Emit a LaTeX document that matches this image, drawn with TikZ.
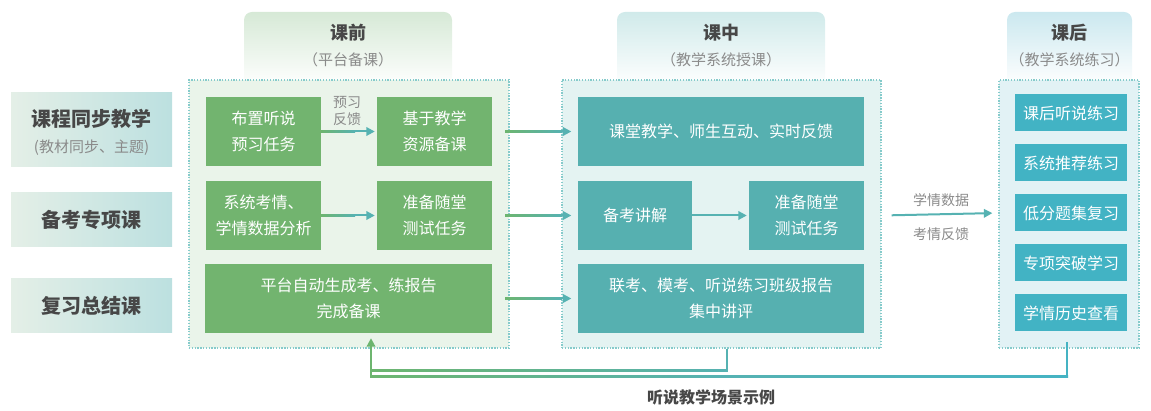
\documentclass[tikz,border=0pt]{standalone}
\usepackage{fontspec}
\setmainfont{Noto Sans CJK SC}
\usetikzlibrary{arrows.meta,calc}
\definecolor{gboxc}{HTML}{72B46F}
\definecolor{tboxc}{HTML}{56B0B0}
\definecolor{cboxc}{HTML}{42B3C4}
\definecolor{fAc}{HTML}{EAF4EA}
\definecolor{fBc}{HTML}{E4F3F2}
\definecolor{fCc}{HTML}{E2F2F5}
\definecolor{dotc}{HTML}{86CBCB}
\definecolor{hAc}{HTML}{D6E9D6}
\definecolor{hBc}{HTML}{D0EAEA}
\definecolor{hCc}{HTML}{CBE8EF}
\definecolor{lLc}{HTML}{E4EFE7}
\definecolor{lRc}{HTML}{BCE0E0}
\definecolor{arrGc}{HTML}{6DB56F}
\definecolor{arrTc}{HTML}{56B2B2}
\definecolor{arrCc}{HTML}{45B3C3}
\definecolor{darkc}{HTML}{474747}
\definecolor{grayc}{HTML}{8A8A8A}
\tikzset{
  box/.style={inner sep=0pt, align=center, text=white, font=\fontsize{16}{26}\selectfont},
  greenbox/.style={box, fill=gboxc},
  tealbox/.style={box, fill=tboxc},
  cyanbox/.style={box, fill=cboxc, minimum width=112pt, minimum height=37pt},
  frame/.style={draw=dotc, line width=1.3pt, dash pattern=on 1.3pt off 1.5pt, inner sep=0pt, minimum height=268pt},
  lbl/.style={inner sep=0pt, left color=lLc, right color=lRc, minimum width=161pt},
  ltitle/.style={inner sep=0pt, text=darkc, font=\fontsize{20}{24}\selectfont\bfseries},
  lsub/.style={inner sep=0pt, text=grayc, font=\fontsize{15}{18}\selectfont},
  htitle/.style={inner sep=0pt, text=darkc, font=\fontsize{18}{22}\selectfont\bfseries},
  hsub/.style={inner sep=0pt, text=grayc, font=\fontsize{15}{18}\selectfont},
  small/.style={inner sep=0pt, text=grayc, font=\fontsize{14}{17}\selectfont, align=center},
  arrT/.style={draw=arrTc, line width=2pt, -{Triangle[length=8.5pt,width=8.5pt]}},
  arrG/.style={draw=arrGc, line width=2pt, -{Triangle[length=8.5pt,width=8.5pt]}},
  lineT/.style={draw=arrTc, line width=2pt},
}
\begin{document}
\begin{tikzpicture}[x=1pt,y=-1pt]
\useasboundingbox (0,0) rectangle (1151,411);
% headers
\shade[top color=hAc, bottom color=white, rounded corners=8pt] (244,12) rectangle (452,86);
\shade[top color=hBc, bottom color=white, rounded corners=8pt] (617,12) rectangle (825,86);
\shade[top color=hCc, bottom color=white, rounded corners=8pt] (1007,12) rectangle (1132,86);
\node[htitle] (h1t) at (348,33) {课前};
\node[hsub] (h1s) at (348,60) {（平台备课）};
\node[htitle] (h2t) at (721,33) {课中};
\node[hsub] (h2s) at (721,60) {（教学系统授课）};
\node[htitle] (h3t) at (1069.5,33) {课后};
\node[hsub] (h3s) at (1069.5,60) {（教学系统练习）};
% frames
\node[frame, fill=fAc, minimum width=320pt] (f1) at (349,214) {};
\node[frame, fill=fBc, minimum width=319pt] (f2) at (721.5,214) {};
\node[frame, fill=fCc, minimum width=140pt] (f3) at (1069,214) {};
% left labels
\node[lbl, minimum height=74pt] (L1) at (91.5,130) {};
\node[ltitle] (L1t) at (91.5,119) {课程同步教学};
\node[lsub] (L1s) at (91.5,148) {(教材同步、主题)};
\node[lbl, minimum height=54pt] (L2) at (91.5,220) {};
\node[ltitle] (L2t) at (91.5,220) {备考专项课};
\node[lbl, minimum height=54pt] (L3) at (91.5,306) {};
\node[ltitle] (L3t) at (91.5,306) {复习总结课};
% green boxes
\node[greenbox, minimum width=115pt, minimum height=69pt] (b1) at (263.5,131.5) {布置听说\\预习任务};
\node[greenbox, minimum width=115pt, minimum height=69pt] (b2) at (434.5,131.5) {基于教学\\资源备课};
\node[greenbox, minimum width=115pt, minimum height=69pt] (b3) at (263.5,215.5) {系统考情、\\学情数据分析};
\node[greenbox, minimum width=115pt, minimum height=69pt] (b4) at (434.5,215.5) {准备随堂\\测试任务};
\node[greenbox, minimum width=287pt, minimum height=69pt] (b5) at (348.5,298.5) {平台自动生成考、练报告\\完成备课};
% teal boxes
\node[tealbox, minimum width=286pt, minimum height=69pt] (t1) at (721,131.5) {课堂教学、师生互动、实时反馈};
\node[tealbox, minimum width=114pt, minimum height=69pt] (t2) at (635,215.5) {备考讲解};
\node[tealbox, minimum width=115pt, minimum height=69pt] (t3) at (806.5,215.5) {准备随堂\\测试任务};
\node[tealbox, minimum width=286pt, minimum height=69pt] (t4) at (721,298.5) {联考、模考、听说练习班级报告\\集中讲评};
% cyan boxes
\node[cyanbox] (c1) at (1071,113) {课后听说练习};
\node[cyanbox] (c2) at (1071,163) {系统推荐练习};
\node[cyanbox] (c3) at (1071,213) {低分题集复习};
\node[cyanbox] (c4) at (1071,263) {专项突破学习};
\node[cyanbox] (c5) at (1071,313) {学情历史查看};
% inner arrows
\draw[arrT, shorten >=2pt] (b1.east) -- (b2.west);
\shade[left color=arrGc, right color=arrTc] (321,130.5) rectangle (355,132.5);
\node[small] (lab1) at (347,111.5) {预习\\反馈};
\draw[arrT, shorten >=2pt] (b3.east) -- (b4.west);
\shade[left color=arrGc, right color=arrTc] (321,214.5) rectangle (355,216.5);
\draw[arrT, shorten >=2pt] (t2.east) -- (t3.west);
% cross arrows
\draw[arrT, shorten <=-4pt, shorten >=-10pt] (f1.east |- b2) -- (f2.west |- t1);
\draw[arrT, shorten <=-4pt, shorten >=-10pt] (f1.east |- b4) -- (f2.west |- t2);
\draw[arrT, shorten <=-4pt, shorten >=-10pt] (f1.east |- b5) -- (f2.west |- t4);
\shade[left color=arrGc, right color=arrTc] (505,130.5) rectangle (562,132.5);
\shade[left color=arrGc, right color=arrTc] (505,214.5) rectangle (562,216.5);
\shade[left color=arrGc, right color=arrTc] (505,297.5) rectangle (562,299.5);
% data arrow
\draw[arrT, shorten <=10pt, shorten >=6pt] (f2.east |- t3) -- (f3.west |- c3);
\node[small] (lab2) at (941,200) {学情数据};
\node[small] (lab3) at (941,234) {考情反馈};
% feedback
\coordinate (k1) at (727,371);
\coordinate (k2) at (1067,377);
\coordinate (k0) at (371,377);
\coordinate (k3) at (1067,342);
\draw[lineT] (f2.south -| k1) -- (k1) -- (k1 -| k0);
\draw[lineT, draw=arrCc] (k3) -- (k2) -- (k0);
\shade[left color=arrGc, right color=arrTc] (371,370) rectangle (727,372);
\shade[left color=arrGc, right color=arrCc, middle color=arrTc] (371,376) rectangle (1068,378);
\draw[arrG, line cap=rect] (k0) -- ($(b5.south -| k0)+(0,5)$);
% title
\node[inner sep=0pt, text=darkc, font=\fontsize{16}{20}\selectfont\bfseries] (title) at (711,397) {听说教学场景示例};
\end{tikzpicture}
\end{document}
